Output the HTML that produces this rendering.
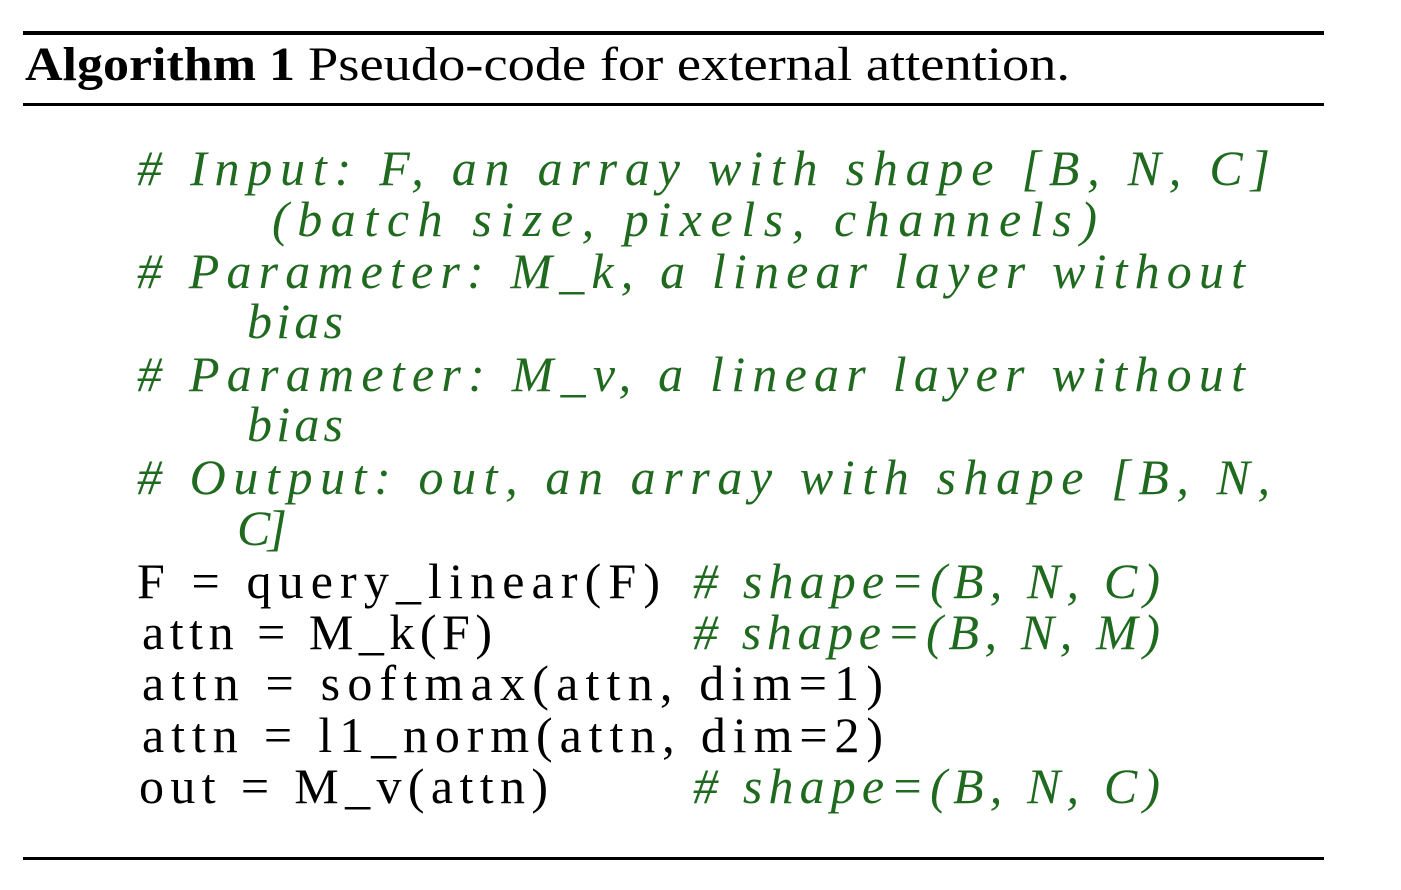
<!DOCTYPE html>
<html><head><meta charset="utf-8"><style>
html,body{margin:0;padding:0;background:#fff;width:1401px;height:890px;overflow:hidden}
svg{display:block}
.c{font-family:"Liberation Serif",serif;font-size:50px;fill:#1f6a1f;font-style:italic}
.k{font-family:"Liberation Serif",serif;font-size:50px;fill:#000}
.t{font-family:"Liberation Serif",serif;font-size:48px;fill:#000}
</style></head><body>
<svg width="1401" height="890">
<rect x="23" y="31" width="1301" height="4" fill="#000"/>
<rect x="23" y="103" width="1301" height="3" fill="#000"/>
<rect x="23" y="857" width="1301" height="3" fill="#000"/>
<text class="t" x="25" y="80" font-weight="bold" textLength="270" lengthAdjust="spacingAndGlyphs">Algorithm 1</text>
<text class="t" x="308" y="80" textLength="762" lengthAdjust="spacingAndGlyphs">Pseudo-code for external attention.</text>
<g>
<text class="c" x="137" y="185" textLength="1133" lengthAdjust="spacing"># Input: F, an array with shape [B, N, C]</text>
<text class="c" x="272" y="236" textLength="825" lengthAdjust="spacing">(batch size, pixels, channels)</text>
<text class="c" x="137" y="288" textLength="1108" lengthAdjust="spacing"># Parameter: M_k, a linear layer without</text>
<text class="c" x="247" y="338" textLength="96" lengthAdjust="spacing">bias</text>
<text class="c" x="137" y="391" textLength="1108" lengthAdjust="spacing"># Parameter: M_v, a linear layer without</text>
<text class="c" x="247" y="441" textLength="96" lengthAdjust="spacing">bias</text>
<text class="c" x="137" y="494" textLength="1133" lengthAdjust="spacing"># Output: out, an array with shape [B, N,</text>
<text class="c" x="237" y="545" textLength="50" lengthAdjust="spacing">C]</text>
<text class="k" x="137" y="598" textLength="523" lengthAdjust="spacing">F = query_linear(F)</text>
<text class="c" x="693" y="598" textLength="467" lengthAdjust="spacing"># shape=(B, N, C)</text>
<text class="k" x="142" y="649" textLength="350" lengthAdjust="spacing">attn = M_k(F)</text>
<text class="c" x="693" y="649" textLength="467" lengthAdjust="spacing"># shape=(B, N, M)</text>
<text class="k" x="142" y="700" textLength="741" lengthAdjust="spacing">attn = softmax(attn, dim=1)</text>
<text class="k" x="142" y="752" textLength="741" lengthAdjust="spacing">attn = l1_norm(attn, dim=2)</text>
<text class="k" x="139" y="803" textLength="409" lengthAdjust="spacing">out = M_v(attn)</text>
<text class="c" x="693" y="803" textLength="467" lengthAdjust="spacing"># shape=(B, N, C)</text>
</g>
</svg>
</body></html>
